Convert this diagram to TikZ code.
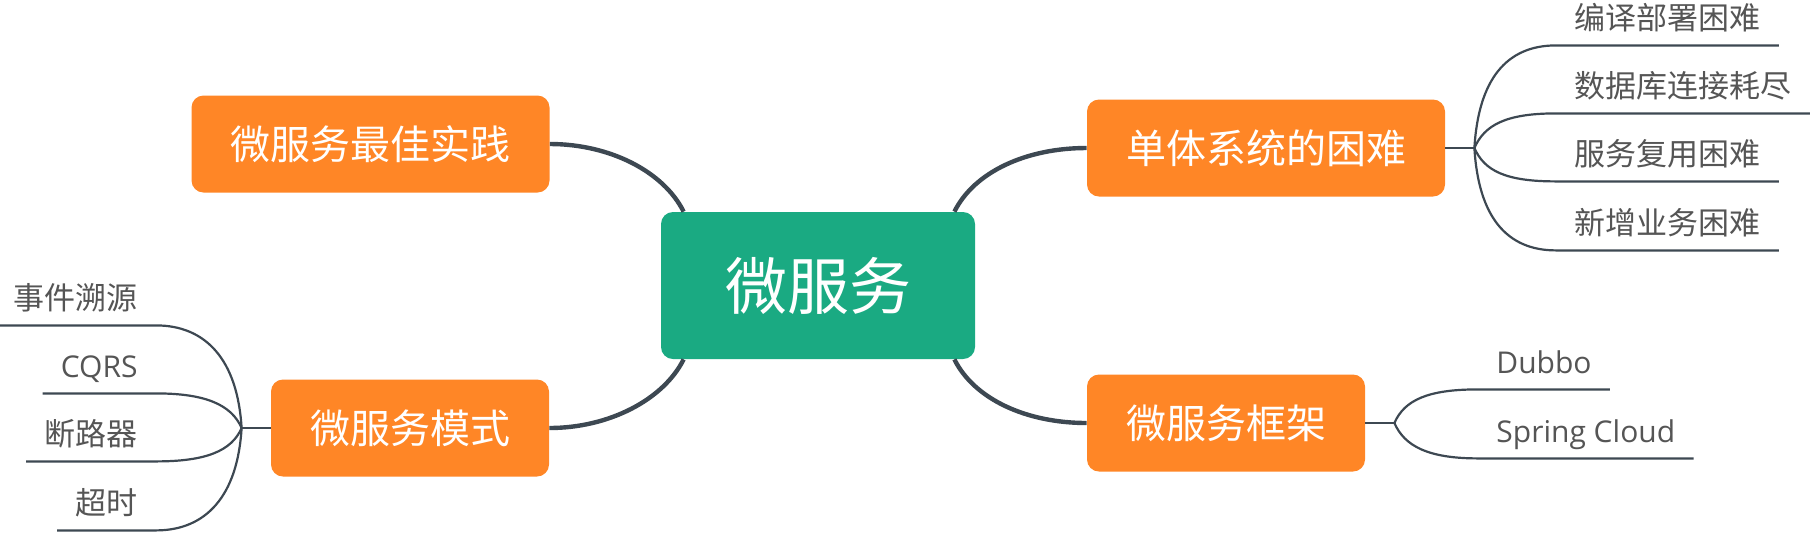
\documentclass[tikz,border=0pt]{standalone}
\usepackage{fontspec}
\setmainfont{Open Sans}
\newfontfamily\cjkfont{Noto Sans CJK SC}
\usetikzlibrary{calc}
\definecolor{topicorange}{RGB}{255,134,38}
\definecolor{rootgreen}{RGB}{26,170,130}
\definecolor{branchline}{RGB}{61,72,82}
\definecolor{leaftext}{RGB}{85,85,85}
\tikzset{
  root/.style={fill=rootgreen, rounded corners=6pt, text=white, font=\cjkfont\fontsize{31}{31}\selectfont,
    minimum width=157pt, minimum height=73.5pt, inner sep=0pt, text height=23.6pt, text depth=0pt},
  topic/.style={fill=topicorange, rounded corners=6pt, text=white, font=\cjkfont\fontsize{20}{20}\selectfont,
    minimum height=48.5pt, inner xsep=19.5pt, inner ysep=0pt, text height=15.2pt, text depth=0pt},
  leaf/.style={text=leaftext, font=\cjkfont\fontsize{15.5}{16}\selectfont,
    inner xsep=9pt, inner ysep=8pt, text height=12pt, text depth=0pt},
  latinleaf/.style={leaf, font=\fontsize{15}{16}\selectfont},
  mainbranch/.style={draw=branchline, line width=2.2pt},
  subbranch/.style={draw=branchline, line width=1.1pt},
}
\begin{document}
\begin{tikzpicture}[x=0.5pt,y=0.5pt,yscale=-1,xscale=1]
\useasboundingbox (0,0) rectangle (1811,532);

% Root
\node[root] (root) at (818,285.5) {微服务};
% Topics
\node[topic] (best) at (370.5,144) {微服务最佳实践};
\node[topic] (hard) at (1266,148) {单体系统的困难};
\node[topic] (pattern) at (410,428) {微服务模式};
\node[topic] (frame) at (1226,423) {微服务框架};

% Main branches
\draw[mainbranch] ($(root.north west)+(23,0)$) .. controls +(-20,-40) and +(60,0) .. (best.east);
\draw[mainbranch] ($(root.north east)+(-21,0)$) .. controls +(20,-40) and +(-60,0) .. (hard.west);
\draw[mainbranch] ($(root.south west)+(23,0)$) .. controls +(-20,40) and +(60,0) .. (pattern.east);
\draw[mainbranch] ($(root.south east)+(-21,0)$) .. controls +(20,40) and +(-60,0) .. (frame.west);

% Junctions
\coordinate (jhard) at ($(hard.east)+(29,0)$);
\coordinate (jpattern) at ($(pattern.west)+(-29,0)$);
\coordinate (jframe) at ($(frame.east)+(29,0)$);

% Leaves of hard
\node[leaf, anchor=west] (compile) at (1556,17) {编译部署困难};
\node[leaf, anchor=west] (dbconn) at (1556,85) {数据库连接耗尽};
\node[leaf, anchor=west] (reuse) at (1556,153) {服务复用困难};
\node[leaf, anchor=west] (newbiz) at (1556,222) {新增业务困难};

\draw[subbranch] (hard.east) -- (jhard);
\draw[subbranch] (jhard) .. controls +(4,-68) and +(-50,0) .. (compile.south west) -- (compile.south east);
\draw[subbranch] (jhard) .. controls +(10,-23) and +(-50,0) .. (dbconn.south west) -- (dbconn.south east);
\draw[subbranch] (jhard) .. controls +(10,23) and +(-50,0) .. (reuse.south west) -- (reuse.south east);
\draw[subbranch] (jhard) .. controls +(4,68) and +(-50,0) .. (newbiz.south west) -- (newbiz.south east);

% Leaves of pattern
\node[leaf, anchor=east] (eventsrc) at (156,297) {事件溯源};
\node[latinleaf, anchor=east] (cqrs) at (156,365) {CQRS};
\node[leaf, anchor=east] (breaker) at (156,433) {断路器};
\node[leaf, anchor=east] (timeout) at (156,502) {超时};

\draw[subbranch] (pattern.west) -- (jpattern);
\draw[subbranch] (jpattern) .. controls +(-4,-68) and +(50,0) .. (eventsrc.south east) -- (eventsrc.south west);
\draw[subbranch] (jpattern) .. controls +(-10,-23) and +(50,0) .. (cqrs.south east) -- (cqrs.south west);
\draw[subbranch] (jpattern) .. controls +(-10,23) and +(50,0) .. (breaker.south east) -- (breaker.south west);
\draw[subbranch] (jpattern) .. controls +(-4,68) and +(50,0) .. (timeout.south east) -- (timeout.south west);

% Leaves of frame
\node[latinleaf, anchor=west] (dubbo) at (1478,361) {Dubbo};
\node[latinleaf, anchor=west] (spring) at (1478,430) {Spring Cloud};

\draw[subbranch] (frame.east) -- (jframe);
\draw[subbranch] (jframe) .. controls +(10,-23) and +(-50,0) .. (dubbo.south west) -- (dubbo.south east);
\draw[subbranch] (jframe) .. controls +(10,23) and +(-50,0) .. (spring.south west) -- (spring.south east);

\end{tikzpicture}
\end{document}
